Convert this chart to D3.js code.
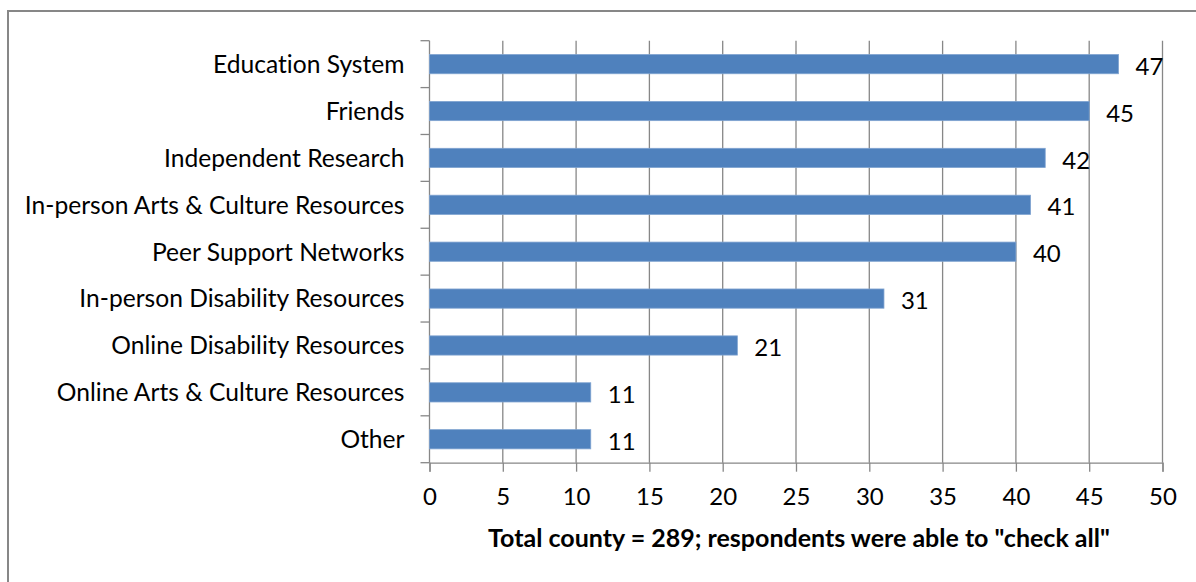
<!DOCTYPE html>
<html><head><meta charset="utf-8">
<script src="https://cdn.jsdelivr.net/npm/d3@7"></script>
<style>body{margin:0;background:#fff;}svg{display:block;font-family:Lato,"Open Sans",sans-serif;font-variant-ligatures:none;}</style>
</head><body>
<svg id="c" width="1196" height="582"></svg>
<script>
const categories = ["Education System","Friends","Independent Research","In-person Arts & Culture Resources","Peer Support Networks","In-person Disability Resources","Online Disability Resources","Online Arts & Culture Resources","Other"];
const values = [47,45,42,41,40,31,21,11,11];
const xTicks = [0,5,10,15,20,25,30,35,40,45,50];
const axisTitle = 'Total county = 289; respondents were able to "check all"';

(function(){
const svg = d3.select("#c");
const pL = 429.5, pR = 1162.5, pT = 40.7, pB = 462.7;
const fs = 24;
const x = d3.scaleLinear().domain([0,50]).range([pL,pR]);
const y = d3.scaleBand().domain(categories).range([pT,pB]).paddingInner(0.59).paddingOuter(0.295);
const yEdges = d3.scaleLinear().domain([0,categories.length]).range([pT,pB]);
const grid = "#878787";

svg.append("path").attr("d","M8,582 V11 H1196").attr("fill","none").attr("stroke",grid).attr("stroke-width",2);

svg.append("g").selectAll("line").data(xTicks.slice(1)).join("line")
  .attr("x1",d=>x(d)).attr("x2",d=>x(d)).attr("y1",pT).attr("y2",pB)
  .attr("stroke",grid).attr("stroke-width",1.3);

const xAxis = svg.append("g").attr("transform",`translate(0,${pB})`)
  .call(d3.axisBottom(x).tickValues(xTicks).tickSize(9).tickPadding(16));
xAxis.select(".domain").attr("stroke",grid).attr("stroke-width",1.3);
xAxis.selectAll(".tick line").attr("stroke",grid).attr("stroke-width",1.3);
xAxis.selectAll("text").attr("font-size",fs).attr("fill","#000").attr("font-family","Lato");

svg.append("line").attr("x1",pL).attr("x2",pL).attr("y1",pT).attr("y2",pB).attr("stroke",grid).attr("stroke-width",1.3);
svg.append("g").selectAll("line").data(d3.range(categories.length+1)).join("line")
  .attr("x1",pL-9).attr("x2",pL).attr("y1",d=>yEdges(d)).attr("y2",d=>yEdges(d))
  .attr("stroke",grid).attr("stroke-width",1.3);

svg.append("g").selectAll("text").data(categories).join("text")
  .attr("x",pL-25).attr("y",d=>y(d)+y.bandwidth()/2).attr("dy","0.36em")
  .attr("text-anchor","end").attr("font-size",24.6).attr("fill","#000").text(d=>d);

svg.append("g").selectAll("rect").data(values).join("rect")
  .attr("x",x(0)).attr("y",(d,i)=>y(categories[i]))
  .attr("width",d=>x(d)-x(0)).attr("height",y.bandwidth())
  .attr("fill","#4F81BD").attr("stroke","#7FA3D0").attr("stroke-width",0.8);

svg.append("g").selectAll("text").data(values).join("text")
  .attr("x",d=>x(d)+17).attr("y",(d,i)=>y(categories[i])+y.bandwidth()/2+2).attr("dy","0.36em")
  .attr("font-size",fs).attr("fill","#000").text(d=>d);

svg.append("text").attr("x",(pL+pR)/2+3).attr("y",538).attr("dy","0.36em")
  .attr("text-anchor","middle").attr("font-size",25).attr("font-weight","bold").attr("fill","#000").text(axisTitle);
})();
</script>
</body></html>
